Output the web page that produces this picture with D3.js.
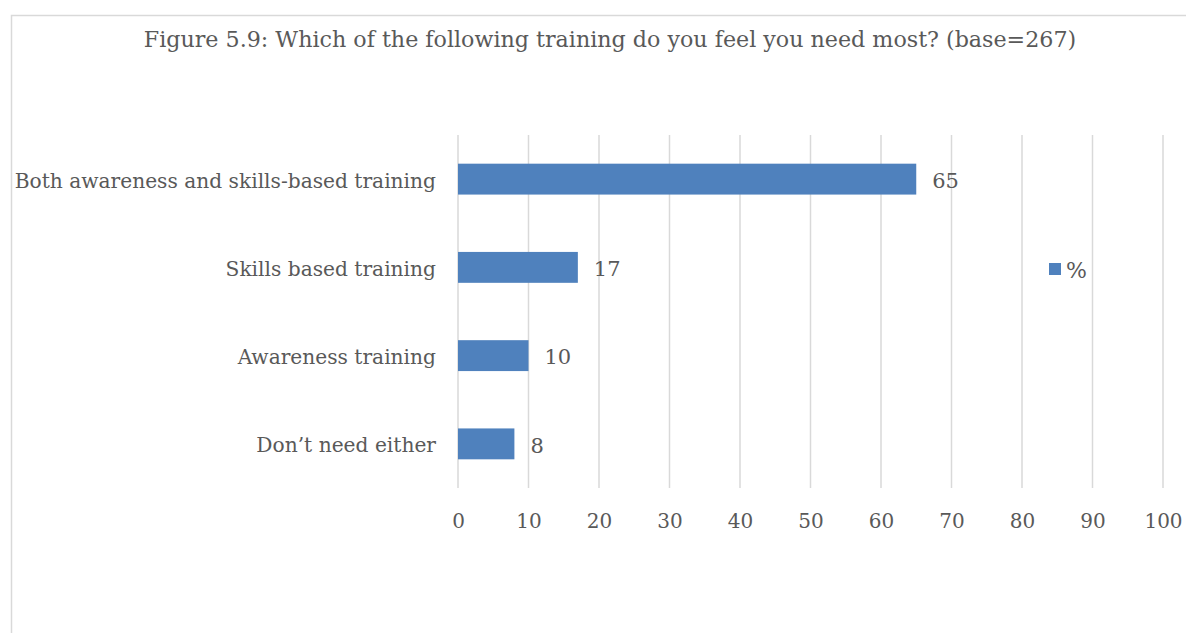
<!DOCTYPE html>
<html lang="en">
<head>
<meta charset="UTF-8">
<title>Figure 5.9</title>
<style>
    body { margin: 0; background: #fff; }
    text { font-family: "DejaVu Serif", serif; fill: #595959; }
</style>
</head>
<body>
<div id="chart"></div>
<script src="https://d3js.org/d3.v7.min.js"></script>
<script>
    const categories = ["Both awareness and skills-based training", "Skills based training", "Awareness training", "Don\u2019t need either"];
    const values = [65, 17, 10, 8];
    const xTicks = [0, 10, 20, 30, 40, 50, 60, 70, 80, 90, 100];
    const seriesName = "%";
    const title = "Figure 5.9: Which of the following training do you feel you need most? (base=267)";

    const W = 1186, H = 633;
    const plot = { left: 458, right: 1163, top: 135, bottom: 488 };

    const svg = d3.select("#chart").append("svg")
        .attr("width", W)
        .attr("height", H);

    // outer chart border (runs off the right/bottom of the image)
    svg.append("rect")
        .attr("x", 11.5).attr("y", 15.5)
        .attr("width", W + 20).attr("height", H + 20)
        .attr("fill", "none")
        .attr("stroke", "#d9d9d9")
        .attr("stroke-width", 1.5);

    const x = d3.scaleLinear().domain([0, 100]).range([plot.left, plot.right]);
    const y = d3.scaleBand().domain(categories).range([plot.top, plot.bottom]).paddingInner(0.65).paddingOuter(0.325);

    svg.selectAll("line.grid")
        .data(xTicks)
        .enter()
        .append("line")
        .attr("class", "grid")
        .attr("x1", d => x(d)).attr("x2", d => x(d))
        .attr("y1", plot.top).attr("y2", plot.bottom)
        .attr("stroke", "#d9d9d9")
        .attr("stroke-width", 1.5);

    const xAxis = svg.append("g")
        .attr("transform", `translate(0,${plot.bottom})`)
        .call(d3.axisBottom(x).tickValues(xTicks).tickSize(0).tickPadding(26));
    xAxis.select(".domain").remove();
    xAxis.selectAll("text").attr("font-family", null).style("font-size", "20px");

    const yAxis = svg.append("g")
        .attr("transform", `translate(${plot.left},0)`)
        .call(d3.axisLeft(y).tickSize(0).tickPadding(22));
    yAxis.select(".domain").remove();
    yAxis.selectAll("text").attr("font-family", null).attr("dy", "0.42em").style("font-size", "20.2px");

    svg.selectAll("rect.bar")
        .data(values)
        .enter()
        .append("rect")
        .attr("class", "bar")
        .attr("x", x(0))
        .attr("y", (d, i) => y(categories[i]))
        .attr("width", d => x(d) - x(0))
        .attr("height", y.bandwidth())
        .attr("fill", "#4f81bd");

    svg.selectAll("text.value")
        .data(values)
        .enter()
        .append("text")
        .attr("class", "value")
        .attr("x", d => x(d) + 16)
        .attr("y", (d, i) => y(categories[i]) + y.bandwidth() / 2)
        .attr("dy", "0.42em")
        .style("font-size", "21px")
        .text(d => d);

    svg.append("text")
        .attr("x", 610)
        .attr("y", 47)
        .attr("text-anchor", "middle")
        .style("font-size", "22.2px")
        .text(title);

    // legend
    svg.append("rect")
        .attr("x", 1049).attr("y", 263)
        .attr("width", 12).attr("height", 12)
        .attr("fill", "#4f81bd");
    svg.append("text")
        .attr("x", 1066).attr("y", 270)
        .attr("dy", "0.35em")
        .style("font-size", "22px")
        .text(seriesName);
</script>
</body>
</html>
